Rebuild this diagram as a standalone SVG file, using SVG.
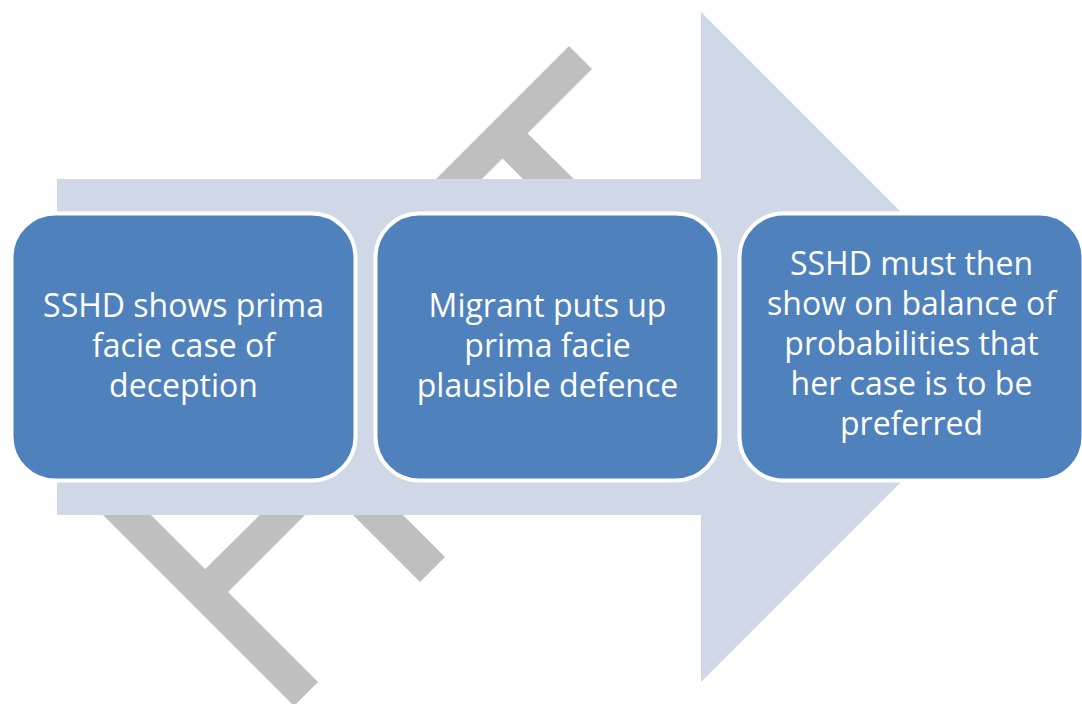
<svg xmlns="http://www.w3.org/2000/svg" width="1082" height="704" viewBox="0 0 1082 704">
  <style>
    .stripe { fill: #BFBFBF; }
    .arrow { fill: #D0D8E8; }
    .box { fill: #4F81BD; stroke: #FFFFFF; stroke-width: 4; }
    .label { font-family: "Open Sans", "Noto Sans", sans-serif; font-size: 32px; fill: #FFFFFF; text-anchor: middle; }
  </style>
  <rect x="0" y="0" width="1082" height="704" fill="#FFFFFF"/>
  <g id="background">
    <!-- gray diagonal stripes -->
    <polygon class="stripe" points="569,46 592,69 461,200 415,200"/>
    <polygon class="stripe" points="517,123 595,200 544,200 492,148"/>
    <polygon class="stripe" points="88,500 136,500 318,682 294,706"/>
    <polygon class="stripe" points="193,581 275,500 320,500 216,604"/>
    <polygon class="stripe" points="338,500 388,500 445,557 420,582"/>
    <!-- big arrow -->
    <polygon class="arrow" points="57,179 701,179 701,12 1036,347 701,682 701,515 57,515"/>
  </g>
  <g id="connectors"/>
  <g id="node1">
    <rect class="box" x="11.5" y="213.5" width="344" height="267" rx="44" ry="44"/>
    <text class="label" x="183.5" y="317">SSHD shows prima</text>
    <text class="label" x="183.5" y="357">facie case of</text>
    <text class="label" x="183.5" y="397">deception</text>
  </g>
  <g id="node2">
    <rect class="box" x="375.5" y="213.5" width="344" height="267" rx="44" ry="44"/>
    <text class="label" x="547.5" y="317">Migrant puts up</text>
    <text class="label" x="547.5" y="357">prima facie</text>
    <text class="label" x="547.5" y="397">plausible defence</text>
  </g>
  <g id="node3">
    <rect class="box" x="739.5" y="213.5" width="344" height="267" rx="44" ry="44"/>
    <text class="label" x="911.5" y="275">SSHD must then</text>
    <text class="label" x="911.5" y="315">show on balance of</text>
    <text class="label" x="911.5" y="355">probabilities that</text>
    <text class="label" x="911.5" y="395">her case is to be</text>
    <text class="label" x="911.5" y="435">preferred</text>
  </g>
</svg>
